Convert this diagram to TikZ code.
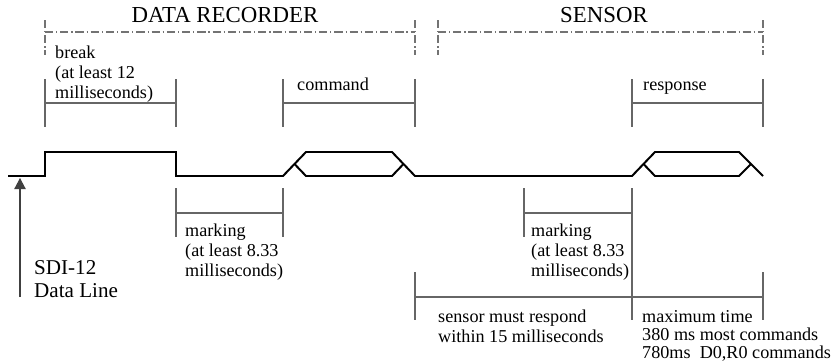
\documentclass[tikz,border=0pt]{standalone}
\usepackage{fontspec}
\setmainfont{Liberation Serif}
\usetikzlibrary{arrows.meta}

\begin{document}
\begin{tikzpicture}[x=0.03cm, y=-0.03cm,
    sig/.style={line width=1.7pt, black},
    dim/.style={line width=0.9pt, black!60},
    spanline/.style={line width=0.9pt, black!55, dash pattern=on 7pt off 2.5pt on 1pt off 2.5pt},
    lbl/.style={inner sep=0pt, align=left, font=\fontsize{15.5}{17}\selectfont},
    titlelbl/.style={inner sep=0pt, font=\fontsize{19.5}{22}\selectfont}]

  \useasboundingbox (0,0) rectangle (831,364);

  %=====================================================================
  % ranges: data recorder and sensor
  %=====================================================================
  \node[titlelbl, anchor=base] (recorder) at (225,23) {DATA RECORDER};
  \node[titlelbl, anchor=base] (sensor) at (604,23) {SENSOR};
  \draw[spanline] (45,20) -- (45,55);
  \draw[spanline] (45,32) -- (415,32);
  \draw[spanline] (415,20) -- (415,55);
  \draw[spanline] (438,20) -- (438,55);
  \draw[spanline] (438,32) -- (763,32);
  \draw[spanline] (763,20) -- (763,55);

  %=====================================================================
  % upper brackets: break, command, response
  %=====================================================================
  \foreach \a/\b in {45/176, 283/415, 632/763} {
    \draw[dim] (\a,79) -- (\a,127);
    \draw[dim] (\b,79) -- (\b,127);
    \draw[dim] (\a,103) -- (\b,103);
  }
  \node[lbl, anchor=north west] (breaklbl) at (55,46)
    {break\\(at least 12\\milliseconds)};
  \node[lbl, anchor=base west] (cmdlbl) at (297,90) {command};
  \node[lbl, anchor=base west] (resplbl) at (643,90) {response};

  %=====================================================================
  % SDI-12 data line
  %=====================================================================
  \draw[sig] (8,176) -- (45,176) -- (45,152) -- (176,152) -- (176,176)
    -- (283,176) -- (306,152) -- (392,152) -- (415,176)
    -- (632,176) -- (655,152) -- (739,152) -- (763,176);
  % lower halves of the command and response frames
  \draw[sig] (294.5,164) -- (306,176) -- (392,176) -- (403.5,164);
  \draw[sig] (643.5,164) -- (655,176) -- (739,176) -- (751,164);

  \coordinate (arrowtail) at (20,297);
  \coordinate (arrowtip) at (20,178);
  \draw[dim, black!75, -{Triangle[length=3.3mm, width=3.4mm]}] (arrowtail) -- (arrowtip);
  \node[inner sep=0pt, align=left, anchor=north west,
    font=\fontsize{18}{19.6}\selectfont] (linelbl) at (34,260)
    {SDI-12\\Data Line};

  %=====================================================================
  % lower brackets: marking, response time
  %=====================================================================
  \foreach \a/\b in {176/283, 524/632} {
    \draw[dim] (\a,188) -- (\a,237);
    \draw[dim] (\b,188) -- (\b,237);
    \draw[dim] (\a,213) -- (\b,213);
  }
  \node[lbl, anchor=north west] (mark1lbl) at (185,224)
    {marking\\(at least 8.33\\milliseconds)};
  \node[lbl, anchor=north west] (mark2lbl) at (531,224)
    {marking\\(at least 8.33\\milliseconds)};

  \draw[dim] (415,272) -- (415,320);
  \draw[dim] (632,237) -- (632,320);
  \draw[dim] (763,272) -- (763,320);
  \draw[dim] (415,297) -- (763,297);
  \node[lbl, anchor=north west] (resplimit) at (438,310)
    {sensor must respond\\within 15 milliseconds};
  \node[lbl, anchor=north west, font=\fontsize{15.5}{15.5}\selectfont] (maxtime) at (642,310)
    {maximum time\\380 ms most commands\\780ms\ \ D0,R0 commands};

\end{tikzpicture}
\end{document}
